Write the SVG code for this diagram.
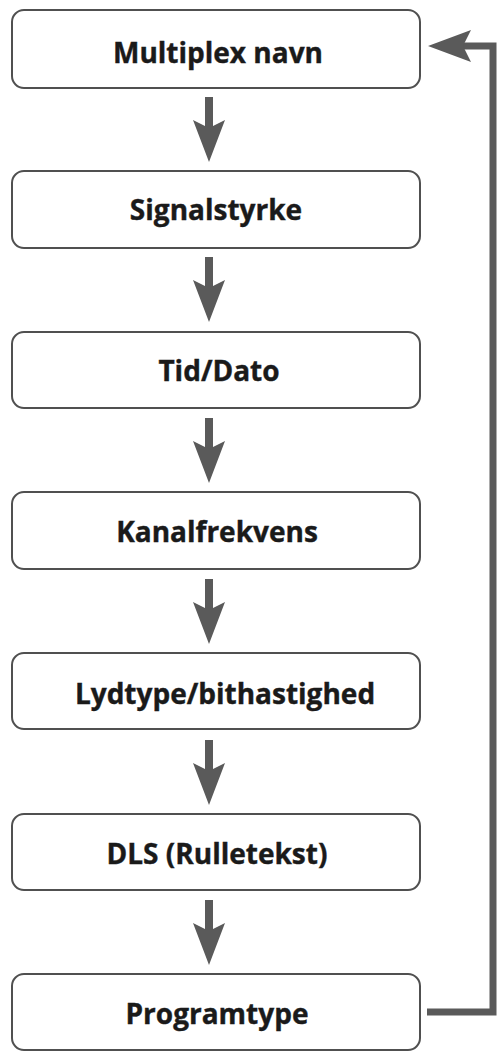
<svg xmlns="http://www.w3.org/2000/svg" width="501" height="1057" viewBox="0 0 501 1057">
<style>
.box{fill:#fff;stroke:#505050;stroke-width:2}
.lbl{font-family:"Open Sans","Noto Sans",sans-serif;font-weight:bold;font-size:28px;fill:#1a1a1a;text-anchor:middle;stroke:#1a1a1a;stroke-width:0.4}
.arr{fill:#5a5a5a}
.loop{fill:none;stroke:#5a5a5a;stroke-width:7}
</style>
<defs>
<polygon id="down" points="-16,0 -4,6 -4,-23 4,-23 4,6 16,0 0,42"/>
</defs>
<rect width="501" height="1057" fill="#fff"/>
<g id="n1"><rect class="box" x="12" y="10" width="408" height="78" rx="12"/><text class="lbl" x="218" y="63">Multiplex navn</text></g>
<g id="n2"><rect class="box" x="12" y="171" width="408" height="77" rx="12"/><text class="lbl" x="216" y="220">Signalstyrke</text></g>
<g id="n3"><rect class="box" x="12" y="332" width="408" height="76" rx="12"/><text class="lbl" x="219" y="381">Tid/Dato</text></g>
<g id="n4"><rect class="box" x="12" y="492" width="408" height="77" rx="12"/><text class="lbl" x="217" y="542">Kanalfrekvens</text></g>
<g id="n5"><rect class="box" x="12" y="653" width="408" height="76" rx="12"/><text class="lbl" x="225" y="704">Lydtype/bithastighed</text></g>
<g id="n6"><rect class="box" x="12" y="814" width="408" height="76" rx="12"/><text class="lbl" x="217" y="864">DLS (Rulletekst)</text></g>
<g id="n7"><rect class="box" x="12" y="974" width="408" height="76" rx="12"/><text class="lbl" x="217" y="1024">Programtype</text></g>
<g id="connectors">
<use href="#down" class="arr" x="209" y="120"/>
<use href="#down" class="arr" x="209" y="280"/>
<use href="#down" class="arr" x="209" y="441"/>
<use href="#down" class="arr" x="209" y="602"/>
<use href="#down" class="arr" x="209" y="763"/>
<use href="#down" class="arr" x="209" y="923"/>
<polyline class="loop" points="427,1012 493,1012 493,46 462,46"/>
<polygon class="arr" points="428,46 471,30 463,46 471,62"/>
</g>
</svg>
